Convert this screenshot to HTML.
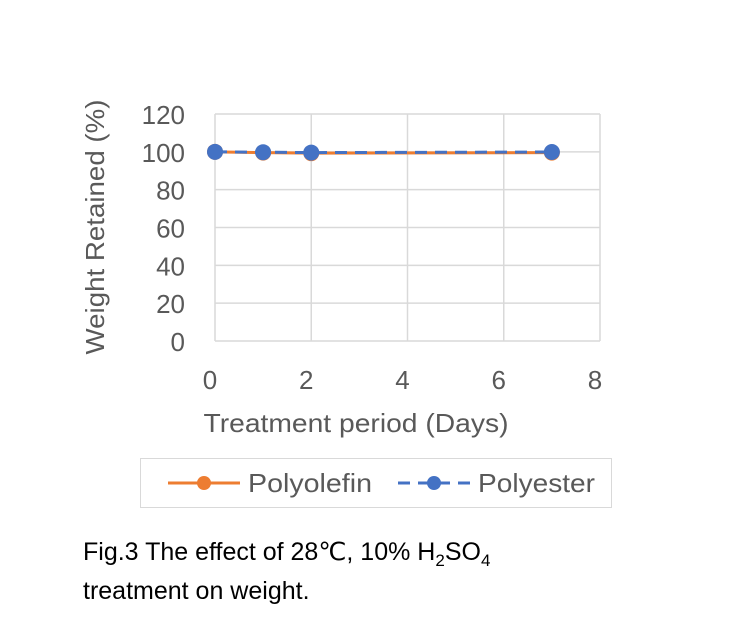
<!DOCTYPE html>
<html><head><meta charset="utf-8"><style>
body{margin:0;background:#fff;font-family:"Liberation Sans",sans-serif}
svg text{font-family:"Liberation Sans",sans-serif}
</style></head><body>
<svg width="731" height="620">
<g id="grid"></g>
<g id="ticks"></g>
<g id="series"></g>
<text x="356" y="432" text-anchor="middle" font-size="26" textLength="305" lengthAdjust="spacingAndGlyphs" fill="#595959">Treatment period (Days)</text>
<text transform="translate(104,227) rotate(-90)" text-anchor="middle" font-size="26" textLength="255" lengthAdjust="spacingAndGlyphs" fill="#595959">Weight Retained (%)</text>
<rect x="140.5" y="458.5" width="471" height="49" fill="none" stroke="#d9d9d9"/>
<g>
<line x1="168" y1="483" x2="240" y2="483" stroke="#ed7d31" stroke-width="3"/>
<circle cx="204" cy="483" r="7" fill="#ed7d31"/>
<text x="248" y="492" font-size="26" textLength="124" lengthAdjust="spacingAndGlyphs" fill="#595959">Polyolefin</text></g>
<g>
<line x1="398" y1="483" x2="470" y2="483" stroke="#4472c4" stroke-width="3" stroke-dasharray="12,8"/>
<circle cx="434" cy="483" r="7" fill="#4472c4"/>
<text x="478" y="492" font-size="26" textLength="117" lengthAdjust="spacingAndGlyphs" fill="#595959">Polyester</text></g>
<text x="83" y="560" font-size="25" fill="#000">Fig.3 The effect of 28℃, 10% H<tspan font-size="17" dy="6">2</tspan><tspan dy="-6">SO</tspan><tspan font-size="17" dy="6">4</tspan></text>
<text x="83" y="599" font-size="25" fill="#000">treatment on weight.</text>
</svg>
<script>
const days=[0,1,2,7];
const polyolefin=[100,99.6,99.3,99.6];
const polyester=[100,99.8,99.6,99.9];
const xTicks=[0,2,4,6,8];
const yTicks=[0,20,40,60,80,100,120];
const L=215,R=600,T=114,B=341;
const xs=v=>L+(v/8)*(R-L), ys=v=>B-(v/120)*(B-T);
const NS="http://www.w3.org/2000/svg";
function mk(tag,attrs,parent){const e=document.createElementNS(NS,tag);for(const k in attrs)e.setAttribute(k,attrs[k]);document.getElementById(parent).appendChild(e);return e;}
yTicks.forEach(v=>{const l=mk('line',{x1:L,x2:R,y1:ys(v),y2:ys(v),stroke:'#d9d9d9','stroke-width':1.5},'grid');


const t=mk('text',{x:185,y:ys(v)+10,'text-anchor':'end','font-size':26,fill:'#595959'},'ticks');t.textContent=v;

});
xTicks.forEach(v=>{const l=mk('line',{x1:xs(v),x2:xs(v),y1:T,y2:B,stroke:'#d9d9d9','stroke-width':1.5},'grid');


const t=mk('text',{x:xs(v)-5,y:389,'text-anchor':'middle','font-size':26,fill:'#595959'},'ticks');t.textContent=v;

});
function series(vals,color,dash,name){
const p=mk('polyline',{points:days.map((d,i)=>xs(d)+','+ys(vals[i])).join(' '),fill:'none',stroke:color,'stroke-width':3,'stroke-dasharray':dash},'series');


days.forEach((d,i)=>{const c=mk('circle',{cx:xs(d),cy:ys(vals[i]),r:8,fill:color},'series');

});}
series(polyolefin,'#ed7d31','none','polyolefin');
series(polyester,'#4472c4','12,8','polyester');
</script>
</body></html>
